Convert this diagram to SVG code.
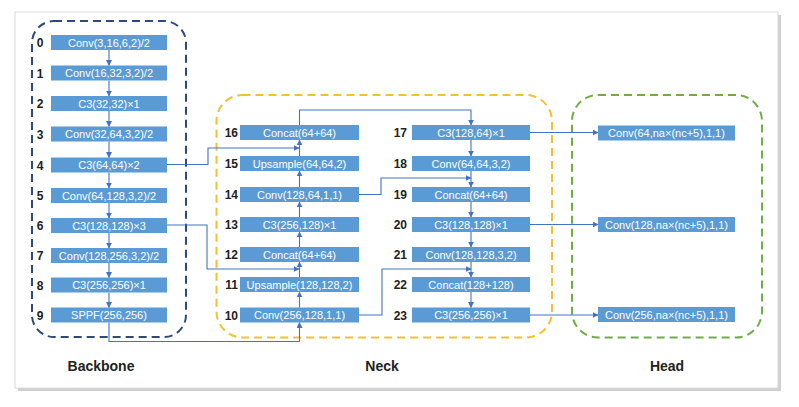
<svg xmlns="http://www.w3.org/2000/svg" width="799" height="407" viewBox="0 0 799 407">
<style>
.node rect{fill:#5B9BD5;}
.node text{fill:#fff;font-family:"Liberation Sans",Arial,sans-serif;font-size:11px;text-anchor:middle;}
.num{fill:#222;font-family:"Liberation Sans",Arial,sans-serif;font-size:12px;font-weight:bold;}
.sec{fill:#222;font-family:"Liberation Sans",Arial,sans-serif;font-size:14px;font-weight:bold;text-anchor:middle;}
.conn path{fill:none;stroke:#4472C4;stroke-width:1.1;marker-end:url(#ah);}
.conn path.nm{marker-end:none;}
.box{fill:none;stroke-width:2;stroke-dasharray:8 5;}
</style>
<defs>
<marker id="ah" viewBox="0 0 10 10" refX="9" refY="5" markerWidth="6" markerHeight="6" markerUnits="userSpaceOnUse" orient="auto">
<path d="M0,0 L10,5 L0,10 z" fill="#4472C4"/>
</marker>
</defs>
<rect x="0" y="0" width="799" height="407" fill="#ffffff"/>
<rect x="18" y="15" width="763" height="376" fill="#cfcfcf"/>
<rect x="15" y="12" width="763" height="376" fill="#ffffff" stroke="#d9d9d9" stroke-width="1"/>

<g id="frames">
<rect class="box" x="32" y="21" width="154" height="316" rx="22" stroke="#2F4A78"/>
<rect class="box" x="216.5" y="95" width="335.5" height="242.5" rx="26" stroke="#F2C12E"/>
<rect class="box" x="572" y="95" width="190" height="242.5" rx="26" stroke="#70AD47"/>
</g>

<g id="connectors" class="conn">
<path d="M109,50 V65.5"/>
<path d="M109,80.5 V96"/>
<path d="M109,111 V126.5"/>
<path d="M109,141.5 V157.5"/>
<path d="M109,172.5 V188"/>
<path d="M109,203 V218"/>
<path d="M109,233 V248"/>
<path d="M109,263 V277.5"/>
<path d="M109,292.5 V307.5"/>
<path d="M299.5,307.5 V292"/>
<path d="M299.5,277 V262"/>
<path d="M299.5,247 V232"/>
<path d="M299.5,217 V202"/>
<path d="M299.5,187 V171"/>
<path d="M299.5,156 V140"/>
<path d="M471,140 V156"/>
<path d="M471,171 V187"/>
<path d="M471,202 V217"/>
<path d="M471,232 V247"/>
<path d="M471,262 V277"/>
<path d="M471,292 V307.5"/>
<path d="M167,164.5 H208 V148 H299"/>
<path d="M167,225 H207 V269 H299"/>
<path d="M109,322.5 V341.5 H299.5 V322.5"/>
<path d="M299.5,125 V110 H471 V125"/>
<path d="M359,194.5 H381 V178 H471"/>
<path d="M359,315 H382 V269 H471"/>
<path d="M530,132.5 H598"/>
<path d="M530,224.5 H598"/>
<path d="M530,315 H598"/>
</g>

<g id="n0" class="node"><rect x="51" y="35" width="116" height="15"/><text x="109" y="46.5">Conv(3,16,6,2)/2</text></g>
<g id="n1" class="node"><rect x="51" y="65.5" width="116" height="15"/><text x="109" y="77">Conv(16,32,3,2)/2</text></g>
<g id="n2" class="node"><rect x="51" y="96" width="116" height="15"/><text x="109" y="107.5">C3(32,32)×1</text></g>
<g id="n3" class="node"><rect x="51" y="126.5" width="116" height="15"/><text x="109" y="138">Conv(32,64,3,2)/2</text></g>
<g id="n4" class="node"><rect x="51" y="157.5" width="116" height="15"/><text x="109" y="169">C3(64,64)×2</text></g>
<g id="n5" class="node"><rect x="51" y="188" width="116" height="15"/><text x="109" y="199.5">Conv(64,128,3,2)/2</text></g>
<g id="n6" class="node"><rect x="51" y="218" width="116" height="15"/><text x="109" y="229.5">C3(128,128)×3</text></g>
<g id="n7" class="node"><rect x="51" y="248" width="116" height="15"/><text x="109" y="259.5">Conv(128,256,3,2)/2</text></g>
<g id="n8" class="node"><rect x="51" y="277.5" width="116" height="15"/><text x="109" y="289">C3(256,256)×1</text></g>
<g id="n9" class="node"><rect x="51" y="307.5" width="116" height="15"/><text x="109" y="319">SPPF(256,256)</text></g>

<g id="n16" class="node"><rect x="240" y="125" width="119" height="15"/><text x="299.5" y="136.5">Concat(64+64)</text></g>
<g id="n15" class="node"><rect x="240" y="156" width="119" height="15"/><text x="299.5" y="167.5">Upsample(64,64,2)</text></g>
<g id="n14" class="node"><rect x="240" y="187" width="119" height="15"/><text x="299.5" y="198.5">Conv(128,64,1,1)</text></g>
<g id="n13" class="node"><rect x="240" y="217" width="119" height="15"/><text x="299.5" y="228.5">C3(256,128)×1</text></g>
<g id="n12" class="node"><rect x="240" y="247" width="119" height="15"/><text x="299.5" y="258.5">Concat(64+64)</text></g>
<g id="n11" class="node"><rect x="240" y="277" width="119" height="15"/><text x="299.5" y="288.5">Upsample(128,128,2)</text></g>
<g id="n10" class="node"><rect x="240" y="307.5" width="119" height="15"/><text x="299.5" y="319">Conv(256,128,1,1)</text></g>

<g id="n17" class="node"><rect x="412" y="125" width="118" height="15"/><text x="471" y="136.5">C3(128,64)×1</text></g>
<g id="n18" class="node"><rect x="412" y="156" width="118" height="15"/><text x="471" y="167.5">Conv(64,64,3,2)</text></g>
<g id="n19" class="node"><rect x="412" y="187" width="118" height="15"/><text x="471" y="198.5">Concat(64+64)</text></g>
<g id="n20" class="node"><rect x="412" y="217" width="118" height="15"/><text x="471" y="228.5">C3(128,128)×1</text></g>
<g id="n21" class="node"><rect x="412" y="247" width="118" height="15"/><text x="471" y="258.5">Conv(128,128,3,2)</text></g>
<g id="n22" class="node"><rect x="412" y="277" width="118" height="15"/><text x="471" y="288.5">Concat(128+128)</text></g>
<g id="n23" class="node"><rect x="412" y="307.5" width="118" height="15"/><text x="471" y="319">C3(256,256)×1</text></g>

<g id="h0" class="node"><rect x="598" y="125.5" width="137" height="15"/><text x="666.5" y="137">Conv(64,na×(nc+5),1,1)</text></g>
<g id="h1" class="node"><rect x="598" y="217" width="137" height="15"/><text x="666.5" y="228.5">Conv(128,na×(nc+5),1,1)</text></g>
<g id="h2" class="node"><rect x="598" y="307" width="137" height="15"/><text x="666.5" y="318.5">Conv(256,na×(nc+5),1,1)</text></g>

<g id="numbers" class="num">
<text x="40" y="47" text-anchor="middle">0</text>
<text x="40" y="77.5" text-anchor="middle">1</text>
<text x="40" y="108" text-anchor="middle">2</text>
<text x="40" y="138.5" text-anchor="middle">3</text>
<text x="40" y="169.5" text-anchor="middle">4</text>
<text x="40" y="200" text-anchor="middle">5</text>
<text x="40" y="230" text-anchor="middle">6</text>
<text x="40" y="260" text-anchor="middle">7</text>
<text x="40" y="289.5" text-anchor="middle">8</text>
<text x="40" y="319.5" text-anchor="middle">9</text>
<text x="238" y="137" text-anchor="end">16</text>
<text x="238" y="168" text-anchor="end">15</text>
<text x="238" y="199" text-anchor="end">14</text>
<text x="238" y="229" text-anchor="end">13</text>
<text x="238" y="259" text-anchor="end">12</text>
<text x="238" y="289" text-anchor="end">11</text>
<text x="238" y="319.5" text-anchor="end">10</text>
<text x="407" y="137" text-anchor="end">17</text>
<text x="407" y="168" text-anchor="end">18</text>
<text x="407" y="199" text-anchor="end">19</text>
<text x="407" y="229" text-anchor="end">20</text>
<text x="407" y="259" text-anchor="end">21</text>
<text x="407" y="289" text-anchor="end">22</text>
<text x="407" y="319.5" text-anchor="end">23</text>
</g>

<g id="sections">
<text class="sec" x="101" y="371">Backbone</text>
<text class="sec" x="382" y="371">Neck</text>
<text class="sec" x="667" y="371">Head</text>
</g>
</svg>
